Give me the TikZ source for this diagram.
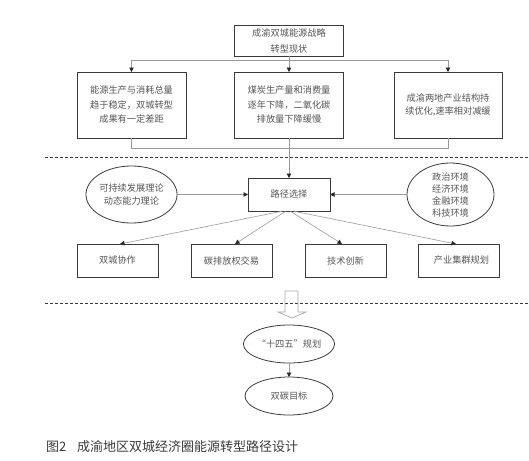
\documentclass[tikz,border=0pt]{standalone}
\usepackage{fontspec}
\setmainfont{Noto Sans CJK SC}
\usetikzlibrary{arrows.meta,shapes.geometric}
\definecolor{boxc}{HTML}{3A3A3A}
\definecolor{txtc}{HTML}{555555}
\definecolor{connc}{HTML}{9A9A9A}
\definecolor{arrc}{HTML}{2A2A2A}
\definecolor{hollowc}{HTML}{A8A8A8}
\begin{document}
\begin{tikzpicture}[x=1pt,y=-1pt,
  every node/.style={inner sep=0pt,outer sep=0pt},
  box/.style={draw=boxc,line width=0.8pt,align=center,text=txtc,font=\fontsize{9.2}{14.5}\selectfont},
  oval/.style={ellipse,draw=boxc,line width=0.8pt,align=center,text=txtc,font=\fontsize{9.2}{13}\selectfont},
  conn/.style={draw=connc,line width=0.6pt},
  arr/.style={conn,-{Triangle[length=4.5pt,width=4.5pt,color=arrc]}},
  sep/.style={draw=boxc,line width=0.7pt,dash pattern=on 3pt off 2pt}]
\useasboundingbox (0,0) rectangle (529,460);
% top
\node[box,minimum width=109pt,minimum height=31pt,font=\fontsize{9.2}{16}\selectfont] (top) at (289,40.5) {成渝双城能源战略\\转型现状};
\node[box,minimum width=109pt,minimum height=66pt] (b1) at (131.5,105) {能源生产与消耗总量\\趋于稳定，双城转型\\成果有一定差距};
\node[box,minimum width=109pt,minimum height=66pt] (b2) at (289,105) {煤炭生产量和消费量\\逐年下降，二氧化碳\\排放量下降缓慢};
\node[box,minimum width=108pt,minimum height=66pt,font=\fontsize{9.2}{13}\selectfont] (b3) at (448,105) {成渝两地产业结构持\\续优化,速率相对减缓};
\coordinate (split) at (289,60);
\coordinate (join) at (289,148);
\draw[conn] (top.south) -- (split);
\draw[arr] (split) -| (b1.north);
\draw[arr] (split) -| (b3.north);
\draw[arr] (top.south) -- (b2.north);
\draw[conn] (b1.south) |- (join);
\draw[conn] (b3.south) |- (join);
% separator 1
\coordinate (s1a) at (45,157);
\coordinate (s1b) at (529,157);
\draw[sep] (s1a) -- (s1b);
% middle
\node[box,minimum width=82pt,minimum height=33pt] (path) at (289,194.5) {路径选择};
\draw[arr] (b2.south) -- (path.north);
\node[oval,minimum width=87pt,minimum height=57pt] (le) at (131.5,194.5) {可持续发展理论\\动态能力理论};
\node[oval,minimum width=87pt,minimum height=57pt,font=\fontsize{9.2}{12}\selectfont] (re) at (450.5,194.5) {政治环境\\经济环境\\金融环境\\科技环境};
\draw[arr] (le.east) -- (path.west);
\draw[arr] (re.west) -- (path.east);
\node[box,minimum width=81pt,minimum height=33pt] (c1) at (117.5,260.5) {双城协作};
\node[box,minimum width=81pt,minimum height=33pt] (c2) at (231.5,260.5) {碳排放权交易};
\node[box,minimum width=81pt,minimum height=33pt] (c3) at (345.5,260.5) {技术创新};
\node[box,minimum width=81pt,minimum height=33pt] (c4) at (458.5,260.5) {\hspace*{6pt}产业集群规划};
\draw[arr] ([xshift=-6pt]path.south) -- ([xshift=2.5pt]c1.north);
\draw[arr] ([xshift=-3pt]path.south) -- ([xshift=3.5pt]c2.north);
\draw[arr] ([xshift=1pt]path.south) -- ([xshift=-3.5pt]c3.north);
\draw[arr] ([xshift=4pt]path.south) -- ([xshift=-2.5pt]c4.north);
% separator 2
\coordinate (s2a) at (45,303);
\coordinate (s2b) at (529,303);
\draw[sep] (s2a) -- (s2b);
% hollow arrow
\draw[hollowc,line width=0.7pt,line join=miter] (285,291) -- (298,291) -- (298,312) -- (306,312) -- (292,318) -- (278,312) -- (285,312) -- cycle;
% bottom
\node[oval,minimum width=88pt,minimum height=38pt] (plan) at (289,344) {“十四五”规划};
\node[oval,minimum width=88pt,minimum height=38pt] (goal) at (289,396) {双碳目标};
\draw[arr] (plan.south) -- (goal.north);
% caption
\node[anchor=west,text=boxc,font=\fontsize{13}{15}\selectfont] (cap) at (46,447) {图2\hspace{11pt}成渝地区双城经济圈能源转型路径设计};
\end{tikzpicture}
\end{document}
